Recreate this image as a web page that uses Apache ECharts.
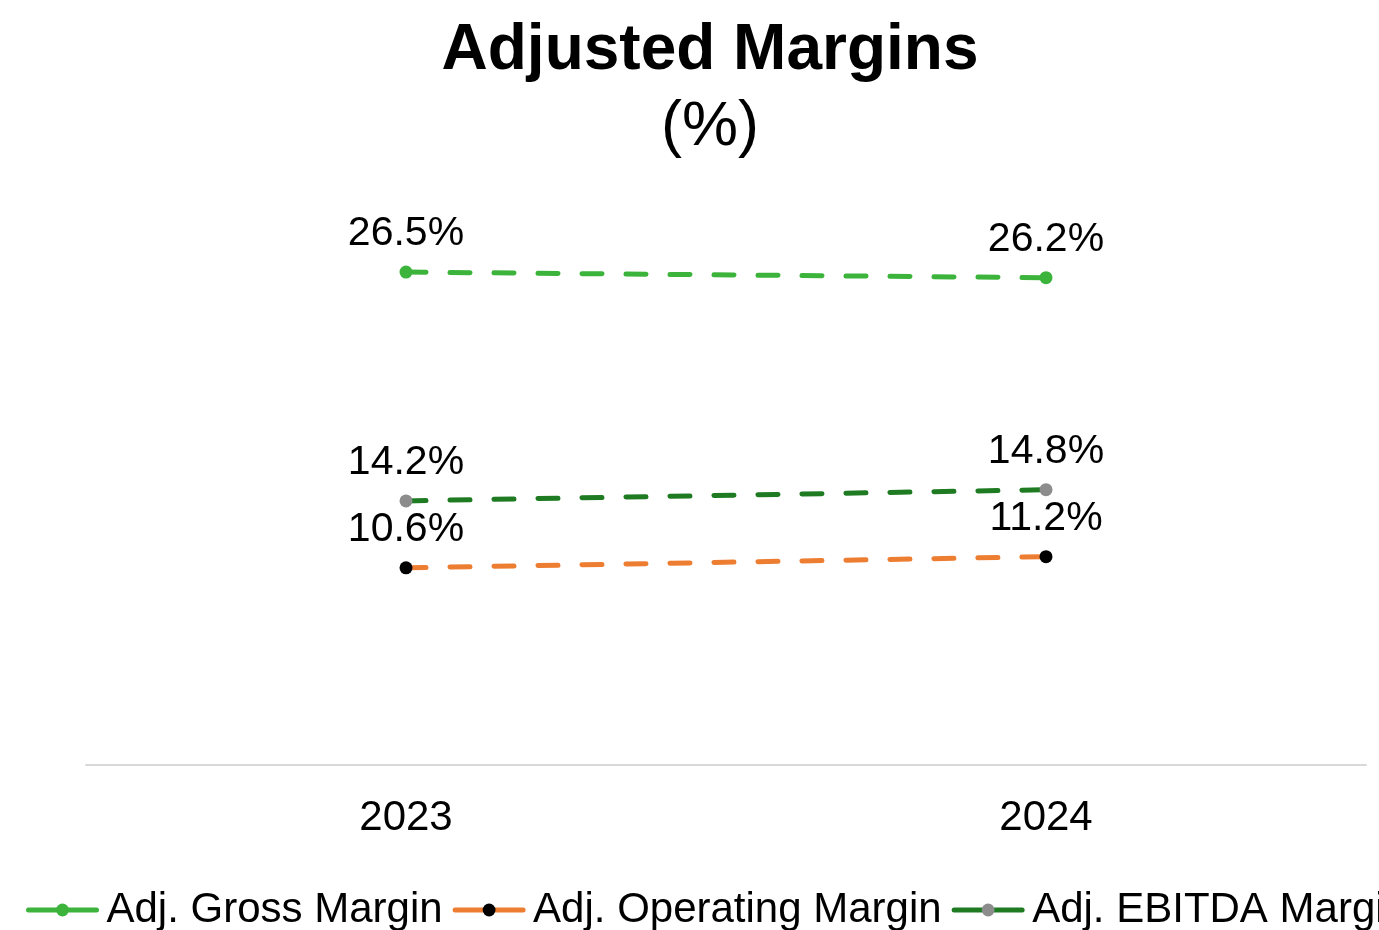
<!DOCTYPE html>
<html>
<head>
<meta charset="utf-8">
<script src="https://cdn.jsdelivr.net/npm/echarts@6/dist/echarts.min.js"></script>
<style>html,body{margin:0;padding:0;background:#fff}#c{width:1379px;height:930px}</style>
</head>
<body>
<div id="c"></div>
<script>
const categories = ['2023', '2024'];
const grossMargin = [26.5, 26.2];
const operatingMargin = [10.6, 11.2];
const ebitdaMargin = [14.2, 14.8];
const seriesNames = ['Adj. Gross Margin', 'Adj. Operating Margin', 'Adj. EBITDA Margin'];

const FONT = 'Liberation Sans, Arial, sans-serif';
const chart = echarts.init(document.getElementById('c'));

function mkSeries(name, data, lineColor, markerColor) {
  return {
    name: name,
    type: 'line',
    data: data,
    symbol: 'circle',
    symbolSize: 13,
    itemStyle: { color: markerColor },
    lineStyle: { color: lineColor, width: 5, type: [20, 24], cap: 'round' },
    label: {
      show: true,
      position: 'top',
      distance: 11,
      color: '#000',
      fontFamily: FONT,
      fontSize: 41,
      formatter: p => p.value.toFixed(1) + '%'
    },
    emphasis: { disabled: true },
    animation: false
  };
}

chart.setOption({
  backgroundColor: '#fff',
  animation: false,
  title: {
    text: 'Adjusted Margins',
    subtext: '(%)',
    left: 705,
    top: 14,
    textAlign: 'center',
    itemGap: 13,
    textStyle: { fontFamily: FONT, fontSize: 64, fontWeight: 'bold', color: '#000' },
    subtextStyle: { fontFamily: FONT, fontSize: 63, color: '#000' }
  },
  legend: {
    data: seriesNames,
    left: 26,
    top: 889,
    padding: 0,
    width: 3000,
    itemWidth: 68,
    itemHeight: 16,
    itemGap: 10,
    lineStyle: { width: 5, type: 'solid', cap: 'round' },
    textStyle: { fontFamily: FONT, fontSize: 42, color: '#000', padding: [0, 0, 0, 5] }
  },
  grid: { left: 86, right: 13, top: 207, bottom: 165, containLabel: false },
  xAxis: {
    type: 'category',
    data: categories,
    boundaryGap: true,
    axisLine: { show: true, lineStyle: { color: '#D9D9D9', width: 2 } },
    axisTick: { show: false },
    axisLabel: { color: '#000', fontFamily: FONT, fontSize: 42, margin: 32 }
  },
  yAxis: {
    type: 'value',
    min: 0,
    max: 30,
    show: false,
    splitLine: { show: false }
  },
  series: [
    mkSeries(seriesNames[0], grossMargin, '#3CB43C', '#3CB43C'),
    mkSeries(seriesNames[1], operatingMargin, '#ED7D31', '#000000'),
    mkSeries(seriesNames[2], ebitdaMargin, '#1E7B22', '#8C8C8C')
  ]
});
</script>
</body>
</html>
